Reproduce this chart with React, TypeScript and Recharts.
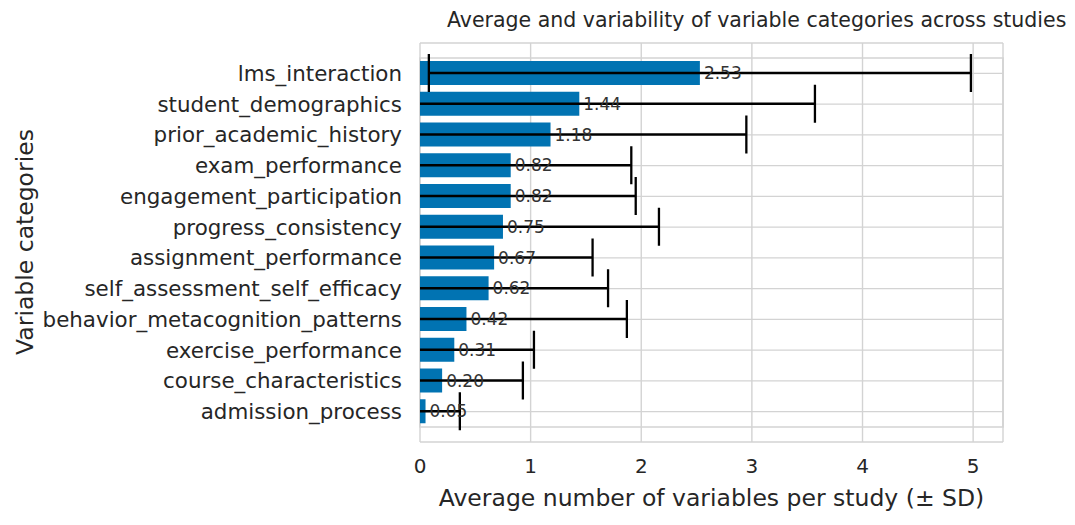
import { BarChart, Bar, XAxis, YAxis, CartesianGrid, ErrorBar, LabelList, Label, ReferenceArea } from 'recharts';

const categories = [
  'lms_interaction',
  'student_demographics',
  'prior_academic_history',
  'exam_performance',
  'engagement_participation',
  'progress_consistency',
  'assignment_performance',
  'self_assessment_self_efficacy',
  'behavior_metacognition_patterns',
  'exercise_performance',
  'course_characteristics',
  'admission_process',
];

const means = [2.53, 1.44, 1.18, 0.82, 0.82, 0.75, 0.67, 0.62, 0.42, 0.31, 0.2, 0.05];
const sds = [2.45, 2.13, 1.77, 1.09, 1.13, 1.41, 0.89, 1.08, 1.45, 0.72, 0.73, 0.31];
const xTicks = [0, 1, 2, 3, 4, 5];
const xMax = 5.27;

const data = categories.map((name, i) => ({ name, mean: means[i], sd: sds[i] }));

const FONT = '"DejaVu Sans", sans-serif';
const GRID = '#d3d3d3';
const TEXT = '#262626';

const W = 1075;
const H = 525;
const Y_AXIS_W = 420;
const X_AXIS_H = 83;
const MARGIN = { top: 43, right: 72, bottom: 0, left: 0 };

// plot box, used to clip whiskers that run past x = 0
const plotX = MARGIN.left + Y_AXIS_W;
const plotY = MARGIN.top;
const plotW = W - plotX - MARGIN.right;
const plotH = H - plotY - MARGIN.bottom - X_AXIS_H;

export default function App() {
  return (
    <div style={{ position: 'absolute', left: 0, top: 0, width: W, height: H, background: '#fff', fontFamily: FONT }}>
      <style>{`.recharts-errorBars { clip-path: url(#plot-clip); }`}</style>
      <svg width={0} height={0} style={{ position: 'absolute' }}>
        <defs>
          <clipPath id="plot-clip" clipPathUnits="userSpaceOnUse">
            <rect x={plotX} y={plotY} width={plotW} height={plotH} />
          </clipPath>
        </defs>
      </svg>
      <div
        style={{
          position: 'absolute',
          left: 447,
          top: 8,
          width: 616,
          textAlign: 'center',
          fontSize: 20.5,
          color: TEXT,
          whiteSpace: 'nowrap',
        }}
      >
        Average and variability of variable categories across studies
      </div>
      <BarChart width={W} height={H} data={data} layout="vertical" margin={MARGIN}>
        <CartesianGrid stroke={GRID} strokeWidth={1.4} />
        <ReferenceArea x1={0} x2={xMax} fill="none" stroke={GRID} strokeWidth={1.6} ifOverflow="visible" />
        <XAxis
          type="number"
          domain={[0, xMax]}
          ticks={xTicks}
          allowDataOverflow
          height={X_AXIS_H}
          axisLine={false}
          tickLine={false}
          tickSize={0}
          tickMargin={17}
          tick={{ fill: TEXT, fontSize: 20, fontFamily: FONT }}
        >
          <Label
            value="Average number of variables per study (± SD)"
            position="insideBottom"
            offset={19}
            style={{ fill: TEXT, fontSize: 23.5, fontFamily: FONT }}
          />
        </XAxis>
        <YAxis
          type="category"
          dataKey="name"
          width={Y_AXIS_W}
          axisLine={false}
          tickLine={false}
          tickSize={0}
          tickMargin={18}
          interval={0}
          padding={{ top: 15, bottom: 15 }}
          tick={{ fill: TEXT, fontSize: 21.4, fontFamily: FONT }}
        >
          <Label
            content={() => (
              <text
                x={25}
                y={242}
                transform="rotate(-90 25 242)"
                textAnchor="middle"
                dominantBaseline="central"
                fill={TEXT}
                fontSize={23.5}
                fontFamily={FONT}
              >
                Variable categories
              </text>
            )}
          />
        </YAxis>
        <Bar dataKey="mean" fill="#0173b2" barSize={24} isAnimationActive={false}>
          <LabelList
            dataKey="mean"
            position="right"
            offset={4}
            formatter={(v: number) => v.toFixed(2)}
            style={{ fill: '#333', fontSize: 17, fontFamily: FONT }}
          />
          <ErrorBar dataKey="sd" direction="x" width={19} stroke="#000" strokeWidth={2.3} />
        </Bar>
      </BarChart>
    </div>
  );
}
